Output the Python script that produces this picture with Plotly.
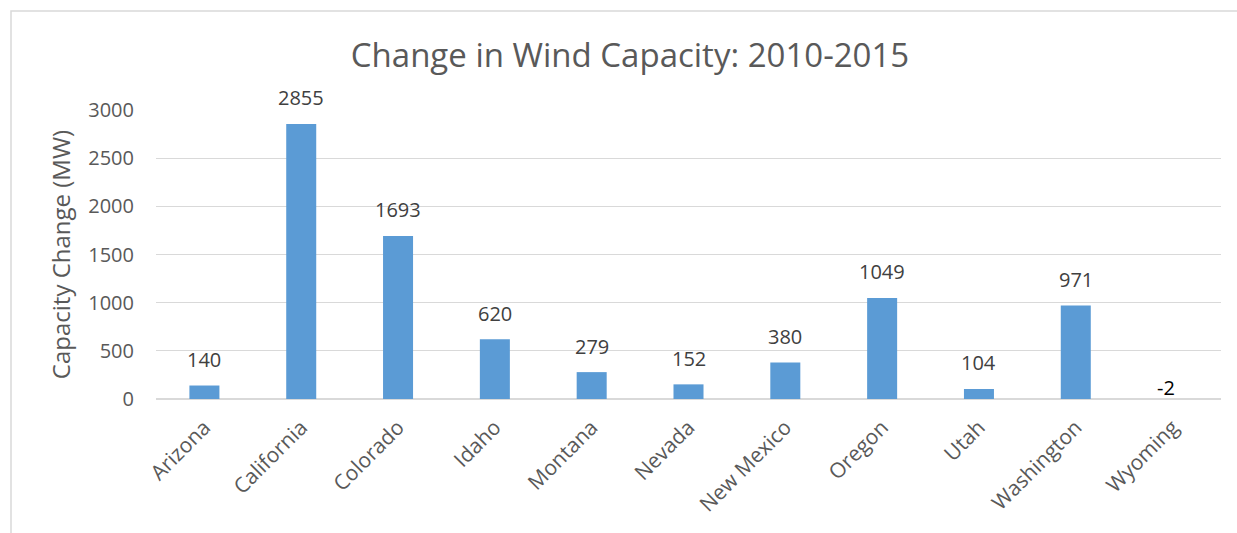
import plotly.graph_objects as go

states = ["Arizona", "California", "Colorado", "Idaho", "Montana", "Nevada",
          "New Mexico", "Oregon", "Utah", "Washington", "Wyoming"]
change_mw = [140, 2855, 1693, 620, 279, 152, 380, 1049, 104, 971, -2]

W, H = 1237, 533
L, R, T, B = 156, 16, 110, 134
pw, ph = W - L - R, H - T - B

fig = go.Figure()
fig.add_trace(go.Bar(x=states, y=change_mw, marker=dict(color="#5B9BD5", line=dict(width=0)),
                     hoverinfo="x+y"))

annotations = []
for s, v in zip(states, change_mw):
    annotations.append(dict(
        x=s, y=max(v, 0), xref="x", yref="y", text=str(v), showarrow=False,
        yanchor="middle", yshift=26 if v > 0 else 12, xshift=0 if v > 0 else -7,
        font=dict(family="Open Sans", size=20, color="#404040" if v > 0 else "#000000")))

fig.update_layout(
    width=W, height=H,
    margin=dict(l=L, r=R, t=T, b=B, autoexpand=False),
    paper_bgcolor="white", plot_bgcolor="white",
    title=dict(text="Change in Wind Capacity: 2010-2015", x=630 / W, xanchor="center",
               y=1 - 55 / H, yanchor="middle",
               font=dict(family="Open Sans", size=33, color="#595959")),
    bargap=0.69,
    showlegend=False,
    annotations=annotations,
    xaxis=dict(tickangle=-45, tickfont=dict(family="Open Sans", size=21, color="#595959"),
               showline=False, ticks="", showgrid=False, ticklabelstandoff=11),
    yaxis=dict(range=[0, 3000], dtick=500, tickformat="d",
               tickfont=dict(family="Open Sans", size=20, color="#595959"),
               gridcolor="#D9D9D9", gridwidth=1, zeroline=True, zerolinecolor="#D9D9D9",
               zerolinewidth=1.5, showline=False, ticks="", ticklen=0, ticklabelstandoff=21,
               title=dict(text="Capacity Change (MW)", standoff=10,
                          font=dict(family="Open Sans", size=24, color="#595959"))),
    shapes=[dict(type="rect", xref="paper", yref="paper",
                 x0=(11 - L) / pw, x1=1.2, y0=-0.8, y1=(H - B - 11) / ph,
                 line=dict(color="#D9D9D9", width=1.5), fillcolor="rgba(0,0,0,0)", layer="below")],
)

fig.write_html("out.html")
